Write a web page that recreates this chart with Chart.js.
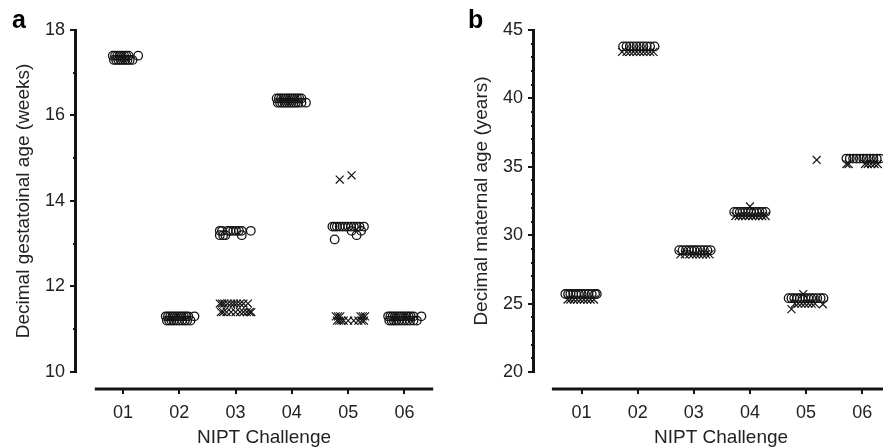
<!DOCTYPE html>
<html>
<head>
<meta charset="utf-8">
<script src="https://cdn.jsdelivr.net/npm/chart.js@4.4.1/dist/chart.umd.min.js"></script>
<style>
  html, body { margin: 0; padding: 0; background: #fff; overflow: hidden; }
  #wrap { position: relative; width: 883px; height: 448px; overflow: hidden; }
  .panel { position: absolute; top: 0; }
  #pa { left: 0; }
  #pb { left: 440px; }
</style>
</head>
<body>
<div id="wrap">
  <div class="panel" id="pa"><canvas id="ca" width="440" height="448"></canvas></div>
  <div class="panel" id="pb"><canvas id="cb" width="457" height="448"></canvas></div>
</div>
<script>
const challenges = ['01', '02', '03', '04', '05', '06'];
const gaTicks = [10, 12, 14, 16, 18];
const maTicks = [20, 25, 30, 35, 40, 45];

// panel a: gestational age (weeks), [challenge position, value]
const gaCircles = [
  [0.82,17.4],[0.86,17.4],[0.90,17.4],[0.94,17.4],[0.98,17.4],[1.02,17.4],[1.06,17.4],[1.10,17.4],[1.27,17.4],
  [0.84,17.3],[0.88,17.3],[0.92,17.3],[0.96,17.3],[1.00,17.3],[1.04,17.3],[1.08,17.3],[1.12,17.3],[1.17,17.3],
  [1.76,11.3],[1.80,11.3],[1.84,11.3],[1.88,11.3],[1.92,11.3],[1.96,11.3],[2.00,11.3],[2.04,11.3],[2.08,11.3],[2.12,11.3],[2.16,11.3],[2.27,11.3],
  [1.78,11.2],[1.82,11.2],[1.86,11.2],[1.90,11.2],[1.95,11.2],[2.00,11.2],[2.05,11.2],[2.10,11.2],[2.14,11.2],[2.20,11.2],
  [2.72,13.3],[2.76,13.3],[2.86,13.3],[2.91,13.3],[2.96,13.3],[3.01,13.3],[3.06,13.3],[3.11,13.3],[3.27,13.3],
  [2.72,13.2],[2.78,13.2],[2.82,13.2],[3.11,13.2],
  [3.73,16.4],[3.77,16.4],[3.81,16.4],[3.85,16.4],[3.89,16.4],[3.93,16.4],[3.97,16.4],[4.01,16.4],[4.05,16.4],[4.09,16.4],[4.13,16.4],[4.17,16.4],
  [3.75,16.3],[3.79,16.3],[3.83,16.3],[3.87,16.3],[3.91,16.3],[3.95,16.3],[3.99,16.3],[4.03,16.3],[4.07,16.3],[4.11,16.3],[4.17,16.3],[4.25,16.3],
  [4.72,13.4],[4.76,13.4],[4.80,13.4],[4.85,13.4],[4.90,13.4],[4.95,13.4],[5.00,13.4],[5.05,13.4],[5.10,13.4],[5.15,13.4],[5.20,13.4],[5.28,13.4],
  [5.06,13.3],[5.23,13.3],[5.15,13.2],[4.76,13.1],
  [5.71,11.3],[5.75,11.3],[5.79,11.3],[5.83,11.3],[5.87,11.3],[5.91,11.3],[5.95,11.3],[5.99,11.3],[6.03,11.3],[6.07,11.3],[6.11,11.3],[6.16,11.3],[6.30,11.3],
  [5.73,11.2],[5.77,11.2],[5.81,11.2],[5.85,11.2],[5.90,11.2],[5.95,11.2],[6.00,11.2],[6.05,11.2],[6.10,11.2],[6.16,11.2],[6.22,11.2]
];
const gaCrosses = [
  [2.72,11.6],[2.76,11.6],[2.80,11.6],[2.86,11.6],[2.92,11.6],[2.97,11.6],[3.02,11.6],[3.08,11.6],[3.14,11.6],[3.22,11.6],
  [2.74,11.4],[2.78,11.4],[2.84,11.4],[2.92,11.4],[3.00,11.4],[3.08,11.4],[3.14,11.4],[3.20,11.4],[3.25,11.4],[3.28,11.4],
  [4.85,14.5],[5.06,14.6],
  [4.78,11.3],[4.82,11.3],[4.86,11.3],[5.22,11.3],[5.26,11.3],[5.30,11.3],
  [4.80,11.2],[4.84,11.2],[4.88,11.2],[4.92,11.2],[5.00,11.2],[5.10,11.2],[5.18,11.2],[5.24,11.2],[5.28,11.2]
];

// panel b: maternal age (years)
const maCircles = [
  [0.71,25.7],[0.76,25.7],[0.80,25.7],[0.85,25.7],[0.90,25.7],[0.95,25.7],[1.00,25.7],[1.06,25.7],[1.12,25.7],[1.18,25.7],[1.24,25.7],[1.27,25.7],
  [1.74,43.8],[1.80,43.8],[1.86,43.8],[1.92,43.8],[1.98,43.8],[2.04,43.8],[2.10,43.8],[2.16,43.8],[2.22,43.8],[2.30,43.8],
  [2.74,28.9],[2.80,28.9],[2.86,28.9],[2.91,28.9],[2.96,28.9],[3.01,28.9],[3.06,28.9],[3.12,28.9],[3.18,28.9],[3.24,28.9],[3.30,28.9],
  [3.72,31.7],[3.77,31.7],[3.82,31.7],[3.87,31.7],[3.92,31.7],[3.97,31.7],[4.02,31.7],[4.07,31.7],[4.12,31.7],[4.17,31.7],[4.22,31.7],[4.28,31.7],
  [4.69,25.4],[4.74,25.4],[4.79,25.4],[4.84,25.4],[4.89,25.4],[4.94,25.4],[4.99,25.4],[5.04,25.4],[5.09,25.4],[5.14,25.4],[5.20,25.4],[5.26,25.4],[5.31,25.4],
  [5.72,35.6],[5.78,35.6],[5.84,35.6],[5.90,35.6],[5.96,35.6],[6.02,35.6],[6.08,35.6],[6.14,35.6],[6.20,35.6],[6.26,35.6],[6.32,35.6]
];
const maCrosses = [
  [0.75,25.3],[0.80,25.3],[0.86,25.3],[0.92,25.3],[0.98,25.3],[1.04,25.3],[1.10,25.3],[1.16,25.3],[1.22,25.3],
  [1.72,43.4],[1.80,43.4],[1.86,43.4],[1.92,43.4],[1.98,43.4],[2.04,43.4],[2.10,43.4],[2.16,43.4],[2.22,43.4],[2.28,43.4],
  [2.76,28.6],[2.84,28.6],[2.92,28.6],[2.98,28.6],[3.04,28.6],[3.10,28.6],[3.16,28.6],[3.22,28.6],[3.28,28.6],
  [3.74,31.4],[3.80,31.4],[3.86,31.4],[3.92,31.4],[3.98,31.4],[4.04,31.4],[4.10,31.4],[4.16,31.4],[4.22,31.4],[4.28,31.4],[4.00,32.1],
  [4.80,25.0],[4.86,25.0],[4.92,25.0],[4.98,25.0],[5.04,25.0],[5.10,25.0],[5.16,25.0],
  [4.74,24.6],[4.95,25.7],[5.30,24.95],[5.19,35.5],
  [5.72,35.2],[5.76,35.2],[6.05,35.2],[6.10,35.2],[6.16,35.2],[6.22,35.2],[6.28,35.2]
];

const INK = '#141414';
const TEXT = '#222';
const FONT = '"Liberation Sans", Arial, sans-serif';

// offset spines, ticks, axis titles and panel letter
const spines = {
  id: 'spines',
  afterDraw(chart, args, opts) {
    const { ctx, chartArea, scales: { x, y } } = chart;
    const t = opts.ticks;
    const left = chartArea.left;
    const b = chartArea.bottom;
    const yTop = y.getPixelForValue(t[t.length - 1]);
    const yBot = y.getPixelForValue(t[0]);
    const xStart = x.getPixelForValue(opts.xStart);
    ctx.save();
    ctx.strokeStyle = INK;
    ctx.lineWidth = 3;
    ctx.beginPath(); ctx.moveTo(left - 1.5, yTop - 1); ctx.lineTo(left - 1.5, yBot + 1); ctx.stroke();
    ctx.lineWidth = 2;
    for (let v = t[0]; v <= t[t.length - 1]; v += 1) {
      const py = Math.round(y.getPixelForValue(v));
      const len = t.includes(v) ? 7 : 4;
      ctx.beginPath(); ctx.moveTo(left - 2, py); ctx.lineTo(left - len, py); ctx.stroke();
    }
    ctx.lineWidth = 3;
    ctx.beginPath(); ctx.moveTo(xStart, b); ctx.lineTo(chartArea.right, b); ctx.stroke();
    ctx.lineWidth = 2;
    challenges.forEach((c, i) => {
      const px = Math.round(x.getPixelForValue(i + 1));
      ctx.beginPath(); ctx.moveTo(px, b); ctx.lineTo(px, b + 5); ctx.stroke();
    });
    ctx.fillStyle = TEXT;
    ctx.font = '19px ' + FONT;
    ctx.textAlign = 'center';
    ctx.textBaseline = 'alphabetic';
    ctx.fillText(opts.xTitle, (xStart + chartArea.right) / 2, b + 54);
    ctx.save();
    ctx.translate(left - 53, (yTop + yBot) / 2);
    ctx.rotate(-Math.PI / 2);
    ctx.textBaseline = 'middle';
    ctx.fillText(opts.yTitle, 0, 0);
    ctx.restore();
    ctx.font = 'bold 25px ' + FONT;
    ctx.textAlign = 'left';
    ctx.fillStyle = '#000';
    ctx.fillText(opts.letter, opts.letterX, 28);
    ctx.restore();
  }
};

function makePanel(canvas, cfg) {
  const pts = (arr) => arr.map(([x, y]) => ({ x, y }));
  return new Chart(canvas, {
    type: 'scatter',
    data: {
      datasets: [
        { label: 'circles', data: pts(cfg.circles), pointStyle: 'circle', pointRadius: 4.3, pointBorderWidth: 1.3,
          pointBorderColor: INK, pointBackgroundColor: 'rgba(0,0,0,0)' },
        { label: 'crosses', data: pts(cfg.crosses), pointStyle: 'crossRot', pointRadius: 5.6, pointBorderWidth: 1.2,
          pointBorderColor: INK, pointBackgroundColor: INK }
      ]
    },
    options: {
      responsive: false,
      animation: false,
      devicePixelRatio: 1,
      layout: { padding: { left: 0, right: 2, top: 30, bottom: 0 } },
      plugins: {
        legend: { display: false },
        tooltip: { enabled: false },
        spines: cfg.spines
      },
      scales: {
        x: {
          type: 'linear', min: cfg.xMin, max: cfg.xMax,
          border: { display: false }, grid: { display: false, drawTicks: false },
          afterBuildTicks: (s) => { s.ticks = challenges.map((c, i) => ({ value: i + 1 })); },
          afterFit: (s) => { s.height = 59; },
          ticks: { padding: 13, color: TEXT, font: { size: 18, family: FONT }, maxRotation: 0,
                   callback: (v) => challenges[v - 1] }
        },
        y: {
          min: cfg.yMin, max: cfg.yMax,
          border: { display: false }, grid: { display: false, drawTicks: false },
          afterBuildTicks: (s) => { s.ticks = cfg.spines.ticks.map((v) => ({ value: v })); },
          afterFit: (s) => { s.width = cfg.yWidth; },
          ticks: { padding: 12, color: TEXT, font: { size: 18, family: FONT } }
        }
      }
    },
    plugins: [spines]
  });
}

makePanel(document.getElementById('ca'), {
  circles: gaCircles, crosses: gaCrosses,
  xMin: 0.184, xMax: 6.51, yMin: 9.6, yMax: 18, yWidth: 77,
  spines: { ticks: gaTicks, xStart: 0.5, xTitle: 'NIPT Challenge', yTitle: 'Decimal gestatoinal age (weeks)', letter: 'a', letterX: 12 }
});
makePanel(document.getElementById('cb'), {
  circles: maCircles, crosses: maCrosses,
  xMin: 0.169, xMax: 6.5, yMin: 18.76, yMax: 45, yWidth: 95,
  spines: { ticks: maTicks, xStart: 0.47, xTitle: 'NIPT Challenge', yTitle: 'Decimal maternal age (years)', letter: 'b', letterX: 28 }
});
</script>
</body>
</html>
